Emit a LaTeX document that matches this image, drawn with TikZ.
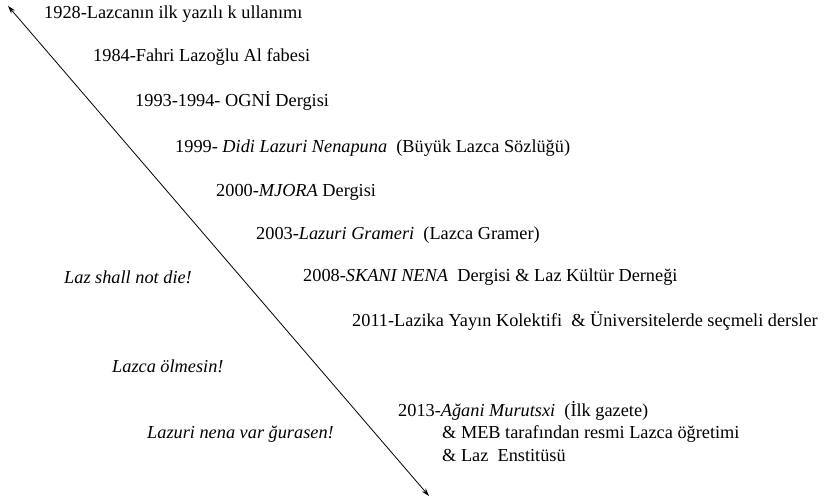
\documentclass[tikz,border=0pt]{standalone}
\usepackage{fontspec}
\setmainfont{Liberation Serif}
\usetikzlibrary{arrows.meta}
\begin{document}
\begin{tikzpicture}[x=1pt,y=-1pt,
  lbl/.style={anchor=west,inner sep=0pt,font=\fontsize{18.3}{21}\selectfont},
  slogan/.style={lbl,font=\fontsize{18.3}{21}\selectfont\itshape},
  timeline/.style={line width=0.8pt,{Stealth[length=8pt,width=5pt]}-{Stealth[length=8pt,width=5pt]}}]
\useasboundingbox (0,0) rectangle (835,502);
\coordinate (top) at (8,6);
\coordinate (bot) at (429,496);
\draw[timeline] (top) -- (bot);
\node[lbl] (e1) at (44,14) {1928-Lazcanın ilk yazılı k ullanımı};
\node[lbl] (e2) at (93,57) {1984-Fahri Lazoğlu Al fabesi};
\node[lbl] (e3) at (135,101) {1993-1994- OGNİ Dergisi};
\node[lbl] (e4) at (175,148) {1999- \textit{Didi Lazuri Nenapuna}\ \ (Büyük Lazca Sözlüğü)};
\node[lbl] (e5) at (216,192) {2000-\textit{MJORA} Dergisi};
\node[lbl] (e6) at (256,235) {2003-\textit{Lazuri Grameri}\ \ (Lazca Gramer)};
\node[lbl] (e7) at (303,277) {2008-\textit{SKANI NENA}\ \ Dergisi \& Laz Kültür Derneği};
\node[lbl] (e8) at (352,321) {2011-Lazika Yayın Kolektifi\ \ \& Üniversitelerde\ seçmeli\ dersler};
\node[lbl] (e9) at (398,411) {2013-\textit{Ağani Murutsxi}\ \ (İlk gazete)};
\node[lbl] (e10) at (442,434) {\& MEB tarafından resmi Lazca öğretimi};
\node[lbl] (e11) at (442,456) {\& Laz\ \ Enstitüsü};
\node[slogan] (s1) at (64,277) {Laz shall not die!};
\node[slogan] (s2) at (112,366) {Lazca ölmesin!};
\node[slogan] (s3) at (147,434) {Lazuri nena var ğurasen!};
\end{tikzpicture}
\end{document}
